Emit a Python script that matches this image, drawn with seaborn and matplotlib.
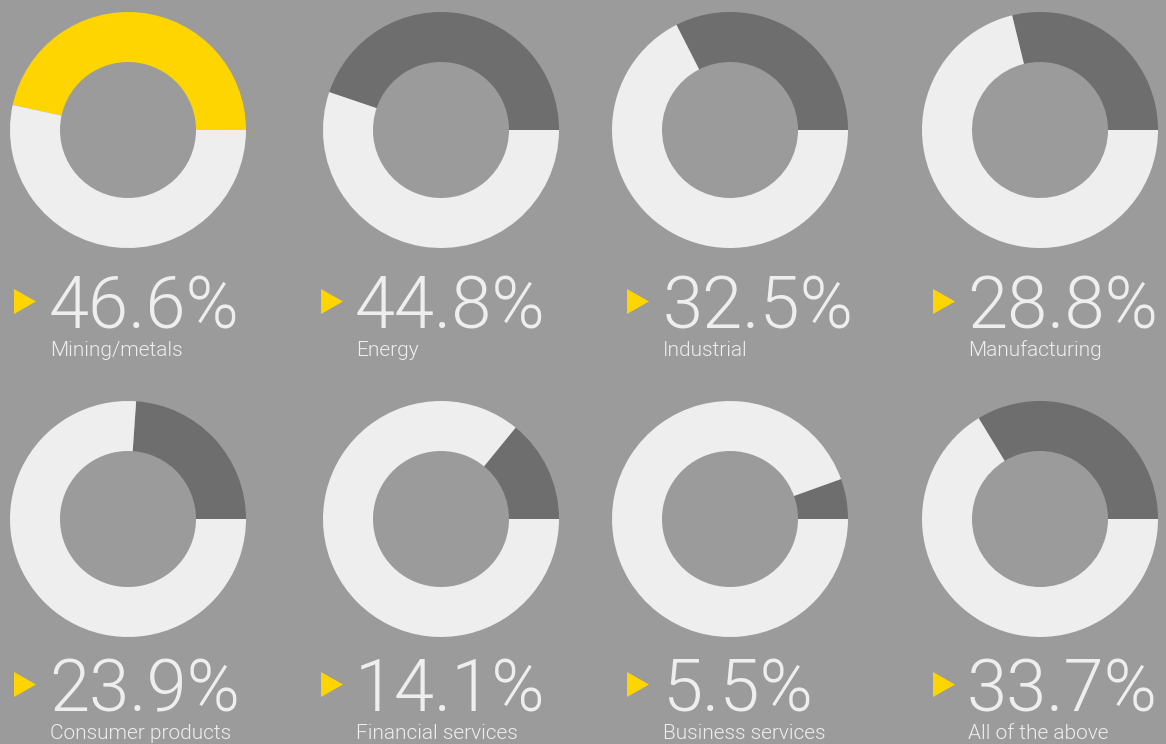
import matplotlib
matplotlib.use("Agg")
import matplotlib.pyplot as plt
from matplotlib.patches import Polygon
from matplotlib import font_manager
import seaborn as sns

# ---- data ----
sectors = ["Mining/metals", "Energy", "Industrial", "Manufacturing",
           "Consumer products", "Financial services", "Business services", "All of the above"]
values = [46.6, 44.8, 32.5, 28.8, 23.9, 14.1, 5.5, 33.7]
labels = ["46.6%", "44.8%", "32.5%", "28.8%", "23.9%", "14.1%", "5.5%", "33.7%"]
highlight = [True, False, False, False, False, False, False, False]

# ---- style ----
sns.set_theme(style="white")
BG = "#9b9b9b"
LIGHT = "#eeeeee"
DARK = "#6e6e6e"
YELLOW = "#ffd500"

avail = {f.name for f in font_manager.fontManager.ttflist}
FAM = next((f for f in ["Roboto", "Open Sans", "Noto Sans", "DejaVu Sans"] if f in avail), "DejaVu Sans")
plt.rcParams["font.family"] = [FAM, "DejaVu Sans"]

W, H = 1166, 744
fig = plt.figure(figsize=(W / 100, H / 100), dpi=100, facecolor=BG)

R = 118
ring = 50 / 118
donut_cx = [128, 441, 730, 1040]
donut_cy = [130, 519]
tri_x = [14, 321, 627, 933]
num_x = [49, 355, 662, 967]
tri_cy = [301.5, 684.5]
num_base = [328, 711]
sub_base = [356, 739]

for i, (v, lab, sec, hl) in enumerate(zip(values, labels, sectors, highlight)):
    row, col = divmod(i, 4)
    cx, cy = donut_cx[col], donut_cy[row]
    ax = fig.add_axes([(cx - R) / W, 1 - (cy + R) / H, 2 * R / W, 2 * R / H])
    ax.set_facecolor(BG)
    ax.pie([v, 100 - v], colors=[YELLOW if hl else DARK, LIGHT], startangle=0,
           counterclock=True, radius=1.0,
           wedgeprops=dict(width=ring, linewidth=0, edgecolor="none"))
    ax.set_xlim(-1.0, 1.0)
    ax.set_ylim(-1.0, 1.0)
    ax.set_aspect("equal")
    ax.axis("off")

    # triangle marker
    tx, ty = tri_x[col], tri_cy[row]
    tri = Polygon([[tx / W, 1 - (ty - 12.5) / H], [tx / W, 1 - (ty + 12.5) / H],
                   [(tx + 22) / W, 1 - ty / H]], closed=True,
                  transform=fig.transFigure, facecolor=YELLOW, edgecolor="none")
    fig.patches.append(tri)

    fig.text(num_x[col] / W, 1 - num_base[row] / H, lab, fontsize=52, fontweight=300,
             color=LIGHT, ha="left", va="baseline")
    fig.text((num_x[col] + 1) / W, 1 - sub_base[row] / H, sec, fontsize=15, fontweight=300,
             color=LIGHT, ha="left", va="baseline")

fig.savefig("out.png", dpi=100, facecolor=BG)
